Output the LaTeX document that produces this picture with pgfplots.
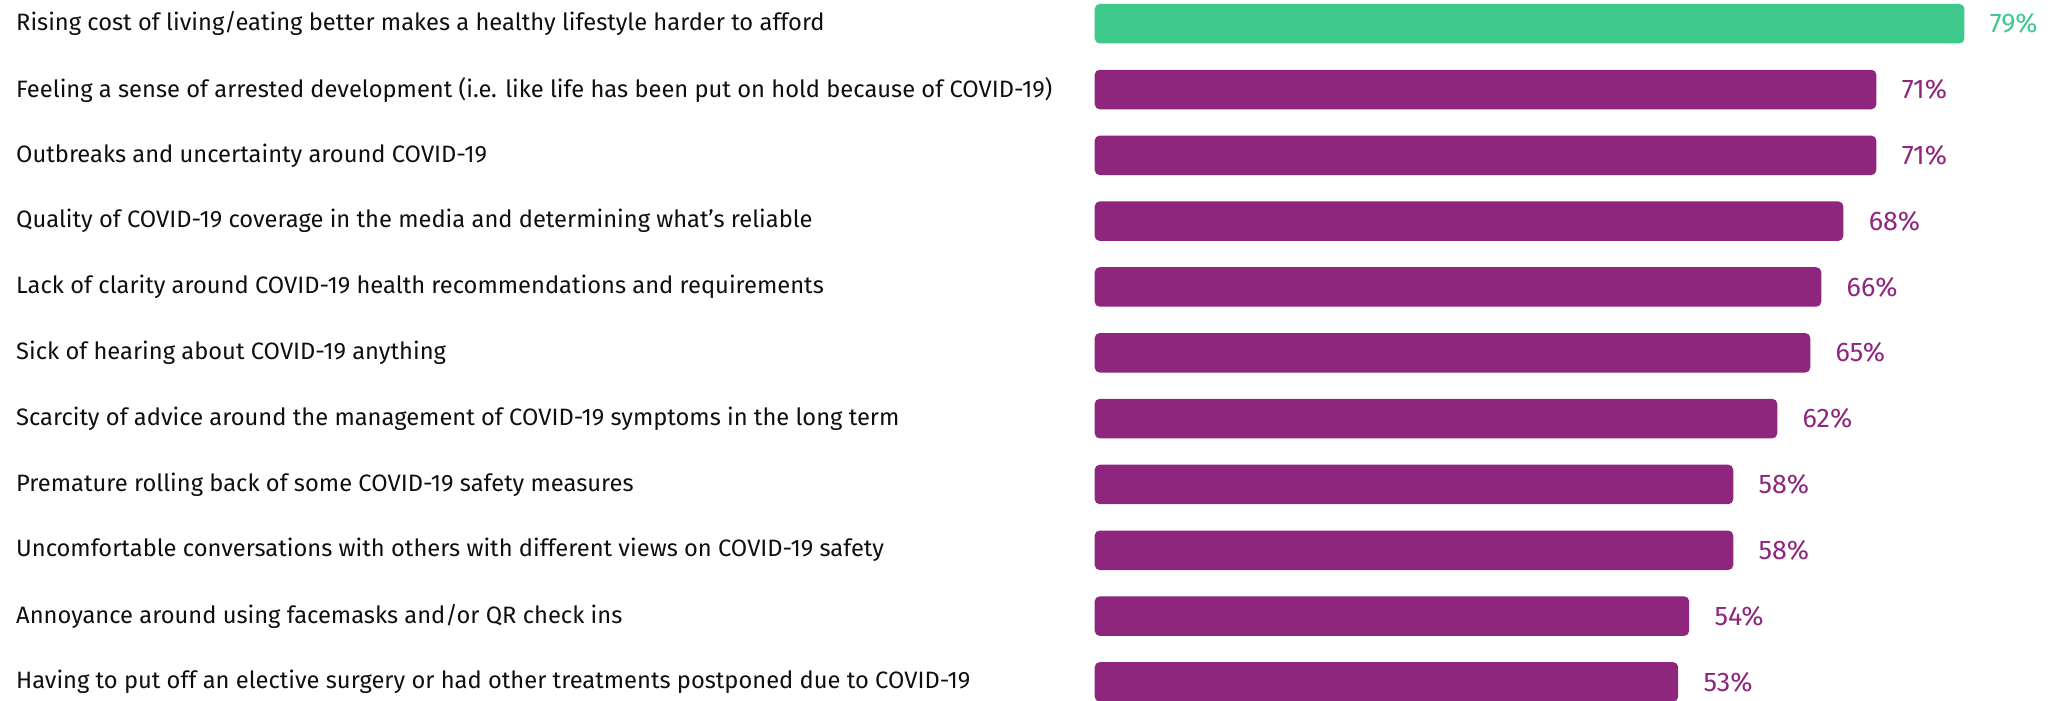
\documentclass[border=0pt]{standalone}
\usepackage{fontspec}
\setmainfont{Fira Sans}
\usepackage{pgfplots}
\pgfplotsset{compat=1.18}
\definecolor{barpurple}{RGB}{142,38,125}
\definecolor{bargreen}{RGB}{62,201,139}
\definecolor{labelblack}{RGB}{15,15,15}
\begin{document}
\begin{tikzpicture}
\begin{axis}[
  at={(0,0)}, anchor=south west,
  scale only axis, width=484.15bp, height=350.5bp,
  xmin=0, xmax=87.95, ymin=-0.36, ymax=10.29, y dir=reverse,
  axis line style={draw=none}, major tick length=0pt,
  xtick=\empty,
  /pgf/number format/assume math mode=true,
  xbar, bar width=19.75bp, bar shift=0pt,
  ytick={0,...,10},
  yticklabels={
    Rising cost of living/eating better makes a healthy lifestyle harder to afford,
    Feeling a sense of arrested development (i.e. like life has been put on hold because of COVID-19),
    Outbreaks and uncertainty around COVID-19,
    Quality of COVID-19 coverage in the media and determining what’s reliable,
    Lack of clarity around COVID-19 health recommendations and requirements,
    Sick of hearing about COVID-19 anything,
    Scarcity of advice around the management of COVID-19 symptoms in the long term,
    Premature rolling back of some COVID-19 safety measures,
    Uncomfortable conversations with others with different views on COVID-19 safety,
    Annoyance around using facemasks and/or QR check ins,
    Having to put off an elective surgery or had other treatments postponed due to COVID-19},
  yticklabel style={anchor=west, xshift=-539.45bp, inner sep=0pt, font=\fontsize{11.9}{13}\selectfont, text=labelblack},
  nodes near coords={\pgfmathprintnumber{\pgfplotspointmeta}\%},
  every node near coord/.append style={anchor=west, inner sep=0pt, xshift=12.5bp, font=\fontsize{13.5}{15}\selectfont},
]
\addplot[draw=none, fill=bargreen, rounded corners=2.5bp, every node near coord/.append style={text=bargreen}] coordinates {(79,0)};
\addplot[draw=none, fill=barpurple, rounded corners=2.5bp, every node near coord/.append style={text=barpurple}] coordinates {
(71,1) (71,2) (68,3) (66,4) (65,5) (62,6) (58,7) (58,8) (54,9) (53,10)};
\end{axis}
\pgfresetboundingbox
\path[use as bounding box] (-547.35bp,0) rectangle (484.15bp,350.5bp);
\end{tikzpicture}
\end{document}
